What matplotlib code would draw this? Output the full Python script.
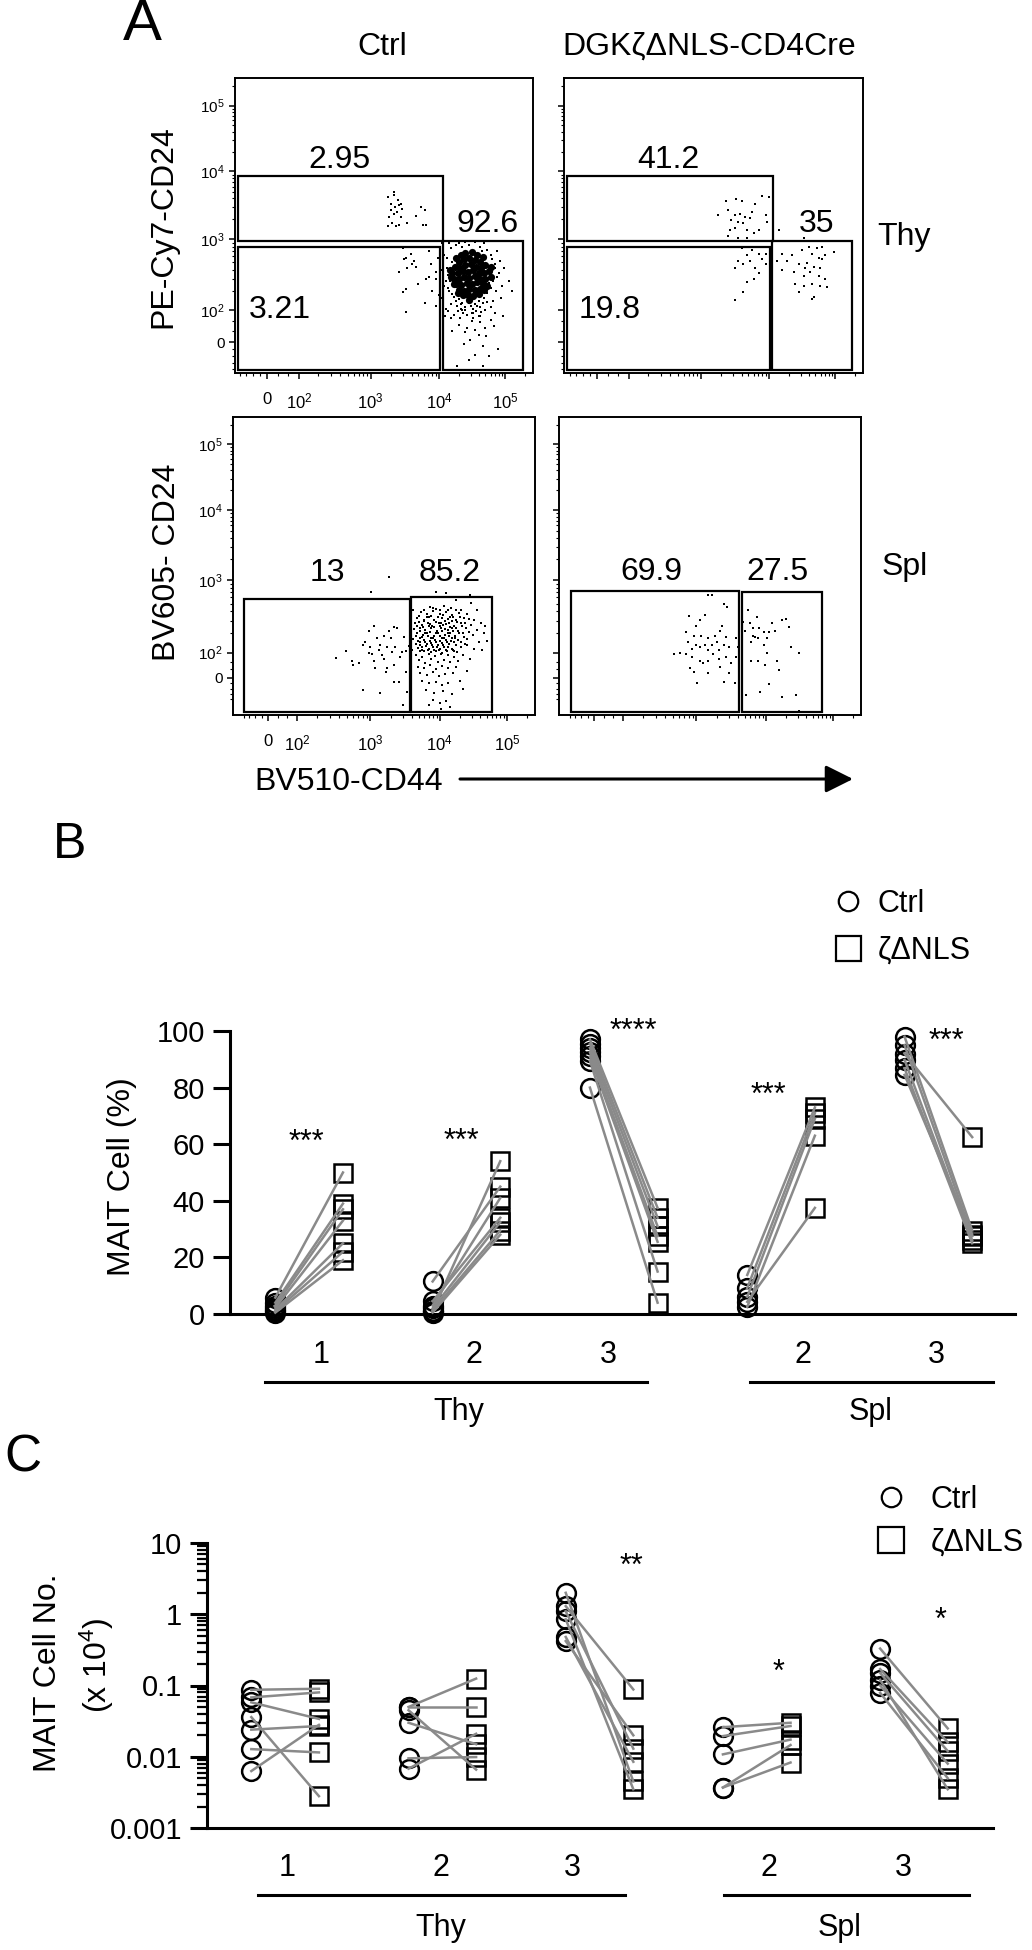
import numpy as np
import matplotlib
matplotlib.use('Agg')
import matplotlib.pyplot as plt
from matplotlib.patches import Rectangle, FancyArrowPatch
from matplotlib.lines import Line2D
from matplotlib.ticker import NullFormatter, LogLocator
from matplotlib.transforms import blended_transform_factory

plt.rcParams['font.family'] = ['Liberation Sans', 'DejaVu Sans']
plt.rcParams['mathtext.fontset'] = 'custom'
plt.rcParams['mathtext.rm'] = 'Liberation Sans'
plt.rcParams['mathtext.it'] = 'Liberation Sans:italic'
plt.rcParams['mathtext.bf'] = 'Liberation Sans:bold'

W, H = 1032, 1950

# ---------------- panel A: flow events ----------------
# rows: log10(CD44) log10(CD24); *_low rows: log10(CD44) raw CD24 (near zero)
def pts(s):
    return np.array(s.split(), float).reshape(-1, 2)

ctrl_thy = pts("""
3.25 3.62 3.30 3.52 3.34 3.66 3.36 3.48 3.41 3.50 3.44 3.52 3.46 3.45 3.30 3.43
3.34 3.38 3.39 3.40 3.44 3.33 3.27 3.33 3.32 3.24 3.37 3.19 3.42 3.21 3.25 3.19
3.54 3.24 3.66 3.35 3.74 3.48 3.79 3.43 3.81 3.21 3.76 3.21 3.34 3.69 3.40 3.58
3.47 2.88 3.52 2.76 3.59 2.81 3.64 2.71 3.66 2.64 3.54 2.62 3.61 2.67 3.49 2.74
3.88 2.67 3.95 2.57 3.86 2.50 3.81 2.48 3.96 2.48 3.42 2.57 3.52 2.33 3.47 2.29
3.79 2.12 3.96 2.07 3.52 1.96 4.00 2.24 3.70 2.40 3.90 2.30 3.85 2.85 3.98 2.75
4.08 2.80 4.12 2.62 4.10 2.45 4.15 2.30 4.18 2.88 4.25 2.92 4.35 2.90 4.62 2.90
4.72 2.86 4.80 2.74 4.85 2.62 4.82 2.45 4.90 2.55 4.95 2.38 4.78 2.35 4.72 2.28
4.68 2.20 4.60 2.15 4.55 2.10 4.30 2.18 4.22 2.22 4.18 2.10 4.27 2.08 4.35 2.12
4.40 2.05 4.48 2.08 4.52 2.02 4.62 2.06 4.82 2.15 4.78 2.05 4.05 2.95 4.02 2.70
4.03 2.20 4.88 2.85 4.92 2.72 4.45 2.92 4.68 2.95 4.14 2.53 4.86 2.30 4.40 2.00
4.56 1.98 4.33 2.02 4.10 2.02
4.05 2.60 4.07 2.38 4.12 2.75 4.15 2.95 4.22 2.98 4.30 2.95 4.40 2.97 4.55 2.96
4.65 2.85 4.78 2.80 4.84 2.68 4.88 2.50 4.80 2.52 4.76 2.42 4.74 2.60 4.70 2.75
4.20 2.70 4.16 2.44 4.13 2.35 4.19 2.26 4.25 2.15 4.33 2.10 4.45 2.12 4.58 2.08
4.66 2.12 4.72 2.14 4.50 1.95 4.42 1.92 4.60 1.90 4.36 1.95 4.28 1.98 4.70 2.00
4.85 1.95 4.94 2.20 4.98 2.62 5.05 2.45 5.10 2.30 4.09 1.90 4.18 1.85 4.52 1.85
4.64 1.97
""")
ctrl_thy_core = pts("""
4.30 2.70 4.38 2.74 4.46 2.76 4.54 2.73 4.62 2.70
4.24 2.64 4.32 2.62 4.40 2.66 4.48 2.68 4.56 2.64 4.64 2.62 4.70 2.66
4.20 2.56 4.28 2.55 4.36 2.58 4.44 2.57 4.52 2.59 4.60 2.56 4.68 2.55 4.75 2.58
4.22 2.48 4.30 2.47 4.38 2.50 4.46 2.49 4.54 2.51 4.62 2.48 4.70 2.47
4.26 2.40 4.34 2.39 4.42 2.42 4.50 2.41 4.58 2.43 4.66 2.40
4.30 2.32 4.38 2.31 4.46 2.34 4.54 2.32 4.62 2.33
4.36 2.24 4.44 2.25 4.52 2.23 4.40 2.82 4.50 2.84 4.33 2.79 4.58 2.80 4.46 2.17
4.16 2.60 4.18 2.50 4.22 2.40 4.78 2.50 4.78 2.64 4.72 2.38 4.68 2.32 4.26 2.76
4.66 2.77 4.28 2.28 4.60 2.26
""")
ctrl_thy_low = pts("""
4.225 83 4.32 70 4.42 39 4.40 28 4.52 90 4.62 57 4.69 39 4.715 17 4.67 -10
4.47 6 4.27 -70 4.67 -70 4.89 -20 4.545 33 4.35 100 4.79 64 4.13 95
4.30 50 4.50 60 4.60 20 4.38 -5 4.55 -35 4.45 -50 4.75 -40 4.62 80 4.83 45
4.20 30 4.97 80
""")

ko_thy = pts("""
3.375 3.57 3.525 3.60 3.60 3.57 3.40 3.43 3.50 3.36 3.575 3.38 3.75 3.40 3.65 3.33
3.725 3.31 3.45 3.29 3.55 3.26 3.625 3.24 3.50 3.17 3.675 3.14 3.775 3.10 3.40 3.05
3.55 3.02 3.675 3.02 3.80 3.52 3.90 3.64 4.00 3.62 3.95 3.36 3.975 3.26 3.85 3.14
3.25 3.36 3.425 3.14
3.60 2.88 3.75 2.86 3.675 2.79 3.85 2.81 3.725 2.71 3.90 2.74 3.50 2.62 3.625 2.67
3.80 2.62 3.95 2.67 3.85 2.55 3.675 2.43 3.775 2.48 3.50 2.17 3.625 2.29 3.95 2.81
3.875 2.90 3.55 2.71
4.20 2.81 4.35 2.79 4.50 2.86 4.525 3.02 4.60 2.90 4.725 2.88 4.80 2.90 4.65 2.81
4.75 2.76 4.85 2.79 4.975 2.83 4.125 2.71 4.275 2.71 4.45 2.67 4.575 2.69 4.675 2.64
4.775 2.62 4.20 2.60 4.375 2.57 4.525 2.52 4.625 2.57 4.75 2.52 4.85 2.48 4.40 2.40
4.525 2.38 4.65 2.40 4.775 2.38 4.875 2.36 4.45 2.29 4.65 2.19 4.675 2.21 4.55 2.62
4.80 2.74 4.15 3.14
""")

ctrl_spl = pts("""
2.686 2.02 2.90 2.13 2.93 2.18 2.976 2.34 3.00 2.09 3.12 2.04 3.145 2.13 3.24 2.09
3.27 2.34 3.29 2.23 3.36 2.09 3.39 2.37 3.48 2.25 3.51 2.02 3.56 2.11 3.10 2.23
3.19 2.27 3.05 2.41 3.34 2.39 3.01 2.85 3.27 3.04
3.86 2.66 3.95 2.63 4.06 2.67 4.17 2.64 4.31 2.62
3.73 2.59 3.81 2.56 3.90 2.60 4.01 2.57 4.09 2.59 4.19 2.55 4.29 2.58 4.41 2.56
3.67 2.51 3.77 2.49 3.85 2.52 3.92 2.48 4.03 2.51 4.08 2.47 4.15 2.52 4.25 2.49 4.36 2.51 4.51 2.48
3.65 2.44 3.74 2.42 3.83 2.45 3.89 2.41 3.99 2.44 4.05 2.42 4.14 2.45 4.22 2.41 4.31 2.44 4.46 2.42
3.63 2.36 3.71 2.38 3.79 2.35 3.88 2.37 3.96 2.34 4.02 2.38 4.12 2.35 4.18 2.37 4.28 2.34 4.39 2.37 4.56 2.35
3.67 2.30 3.76 2.28 3.82 2.31 3.92 2.27 3.98 2.30 4.08 2.28 4.16 2.31 4.23 2.27 4.34 2.30 4.49 2.28
3.62 2.22 3.71 2.24 3.77 2.21 3.87 2.23 3.93 2.20 4.03 2.24 4.09 2.21 4.19 2.23 4.27 2.20 4.41 2.22
3.66 2.15 3.72 2.17 3.82 2.14 3.88 2.16 3.98 2.13 4.04 2.16 4.14 2.14 4.21 2.17 4.37 2.15
3.69 2.08 3.75 2.10 3.85 2.07 3.91 2.09 4.01 2.06 4.07 2.09 4.18 2.07 4.31 2.09 4.51 2.07
3.71 2.02 3.78 2.03 3.88 2.01 3.94 2.03 4.04 2.00 4.11 2.02 4.26 2.01
4.55 2.62 4.61 2.45 4.66 2.31 4.70 2.19 3.62 2.61 3.60 2.04 4.46 2.71 4.24 2.74
4.41 2.12 4.59 2.17 4.21 2.03 4.68 2.41 4.63 2.05 3.94 2.85 4.09 2.83 4.45 2.81
3.77 2.62 3.90 2.64 4.00 2.62 4.12 2.61 4.24 2.61
3.70 2.54 3.81 2.52 3.88 2.54 3.97 2.53 4.05 2.55 4.12 2.50 4.20 2.52 4.30 2.53 4.43 2.50
3.70 2.46 3.78 2.47 3.86 2.43 3.94 2.46 4.02 2.45 4.10 2.43 4.18 2.47 4.26 2.46 4.37 2.45
3.67 2.40 3.76 2.39 3.84 2.40 3.92 2.39 4.00 2.40 4.08 2.36 4.15 2.39 4.24 2.38 4.33 2.40
3.71 2.33 3.79 2.31 3.86 2.32 3.95 2.30 4.03 2.33 4.12 2.30 4.20 2.33 4.29 2.30 4.43 2.32
3.66 2.26 3.74 2.25 3.83 2.26 3.90 2.24 4.00 2.26 4.06 2.24 4.14 2.26 4.23 2.24 4.36 2.25
3.69 2.19 3.79 2.18 3.86 2.19 3.95 2.18 4.01 2.19 4.11 2.18 4.17 2.19 4.31 2.18
3.72 2.12 3.80 2.11 3.89 2.12 3.96 2.10 4.05 2.12 4.13 2.10 4.24 2.12
3.74 2.05 3.83 2.04 3.92 2.05 3.99 2.04 4.09 2.05 4.20 2.04
""")
ctrl_spl_low = pts("""
2.565 73 2.78 47 2.855 55 3.02 95 3.05 63 3.07 33 3.17 87 3.19 70 3.22 21 3.31 104
3.34 47 3.41 -15 3.43 80 3.46 104 3.52 21 3.53 -51 2.90 -43 3.145 -58 3.34 -15 3.24 33
2.976 100 3.47 -110 2.76 63
3.66 90 3.75 80 3.84 95 3.93 85 4.02 92 4.12 88 4.22 80 4.35 90
3.70 65 3.79 55 3.88 70 3.97 60 4.06 68 4.16 58 4.28 62 4.45 70
3.68 40 3.77 35 3.86 45 3.95 30 4.04 42 4.13 35 4.25 38
3.72 15 3.81 10 3.90 20 3.99 5 4.08 12 4.20 18 4.40 25
3.75 -10 3.85 -20 3.94 -15 4.03 -25 4.12 -18 4.30 -10
3.80 -45 3.92 -55 4.05 -50 4.18 -60 4.35 -40
3.90 -85 4.00 -100 4.10 -90 3.85 -110 4.02 -135 4.15 -120 4.05 -150
""")

ko_spl = pts("""
3.17 2.81 3.22 2.81 3.395 2.69 3.445 2.65 3.12 2.55 2.91 2.54 3.37 2.41 3.045 2.48
2.995 2.41 2.87 2.32 2.97 2.27 3.07 2.27 3.17 2.23 3.27 2.27 3.345 2.34 3.42 2.25
2.895 2.18 2.995 2.13 3.12 2.13 3.22 2.13 3.295 2.18 3.395 2.13 2.945 2.06 3.045 2.09
3.17 2.04 3.32 2.04 3.47 2.09 3.57 2.23 3.61 2.13 3.595 2.09
3.745 2.62 3.77 2.45 3.87 2.53 3.91 2.37 3.845 2.25 3.97 2.32 4.045 2.32 4.02 2.23
4.095 2.44 4.145 2.34 4.245 2.48 4.295 2.50 4.345 2.39 3.82 2.37 3.67 2.46 3.695 2.34
3.795 2.18 3.895 2.23 4.37 2.09 3.97 2.13 3.82 2.27
""")
ko_spl_low = pts("""
2.72 94 2.795 100 2.87 94 2.945 78 3.045 63 3.095 55 3.17 63 3.245 94 3.32 70 3.42 78
3.495 55 3.57 78 2.92 33 2.97 21 3.17 15 3.345 40 3.47 17 3.395 -15 3.005 -18 3.56 -18
4.02 100 4.495 100 3.795 63 3.895 63 3.995 47 4.17 63 4.195 26 4.045 -23 3.92 -51
3.72 -65 4.245 -72 4.445 -65 4.495 -145
""")

# gates: (CD44 lo, CD24 lo, CD44 hi, CD24 hi) and frequencies
gates_ctrl_thy = [(-89, 940, 1.15e4, 8.7e3), (-89, -85, 1.03e4, 800), (1.15e4, -85, 1.87e5, 940)]
gates_ko_thy = [(-92, 940, 1.15e4, 8.7e3), (-92, -85, 1.03e4, 800), (1.1e4, -85, 1.8e5, 940)]
gates_ctrl_spl = [(-80, -150, 3.67e3, 580), (3.9e3, -150, 6.0e4, 600)]
gates_ko_spl = [(-76, -150, 4.1e3, 720), (4.6e3, -150, 7.0e4, 700)]
freq_ctrl_thy = ['2.95', '3.21', '92.6']
freq_ko_thy = ['41.2', '19.8', '35']
freq_ctrl_spl = ['13', '85.2']
freq_ko_spl = ['69.9', '27.5']

# ---------------- panel B: MAIT cell (%) ----------------
groups = ['1', '2', '3', '2', '3']
group_pos = [1, 2, 3, 4, 5]
pct_ctrl = [[5.8, 4.0, 3.0, 2.2, 1.5, 1.0, 0.5],
            [1.0, 11.5, 3.0, 4.5, 2.0, 1.2, 0.5],
            [97, 95.5, 94, 92.5, 91, 89.5, 80],
            [13.8, 9.2, 6.1, 2.5, 4.3],
            [98, 95, 92, 89.8, 86.8, 84.5]]
pct_ko = [[50, 39, 37, 33, 25, 22, 19],
          [54, 45, 41, 34, 32.5, 29.5, 28],
          [37.5, 34, 31, 27.5, 25.5, 15, 4],
          [73, 71, 69, 63, 37.5],
          [29.5, 27.5, 62.5, 26, 25, 28]]
pct_sig = ['***', '***', '****', '***', '***']

# ---------------- panel C: MAIT cell number (x 10^4) ----------------
num_ctrl = [[0.087, 0.068, 0.058, 0.024, 0.0128, 0.0063, 0.036],
            [0.05, 0.05, 0.045, 0.03, 0.0095, 0.0068],
            [2.0, 1.3, 1.1, 0.85, 0.48, 0.42],
            [0.026, 0.0195, 0.0108, 0.0037, 0.0037],
            [0.33, 0.17, 0.15, 0.12, 0.1, 0.079]]
num_ko = [[0.09, 0.08, 0.034, 0.027, 0.0115, 0.028, 0.0028],
          [0.125, 0.05, 0.0066, 0.015, 0.0099, 0.021],
          [0.0045, 0.088, 0.013, 0.0035, 0.0085, 0.02],
          [0.03, 0.027, 0.0174, 0.0146, 0.0083],
          [0.025, 0.016, 0.012, 0.0035, 0.008, 0.005]]
num_sig = ['', '', '**', '*', '*']

# ======================================================
fig = plt.figure(figsize=(W / 100, H / 100), dpi=100)


def fx(px):
    return px / W


def fy(py):
    return 1 - py / H


def box(l, t, r, b):
    return [fx(l), fy(b), (r - l) / W, (b - t) / H]


def biex(p100, p1e3, p1e4, p1e5):
    # FlowJo-like display: linear near zero, log above; knots = screen offsets of 10^2..10^5
    v = np.array([-1e4, -100, 0, 100, 1e3, 1e4, 1e5, 1e7])
    u = np.arcsinh(v / 100)
    s0 = p100 / u[3]
    s1 = (p1e5 - p1e4) / (u[6] - u[5])
    p = np.array([u[0] * s0, -p100, 0, p100, p1e3, p1e4, p1e5, p1e5 + (u[7] - u[6]) * s1])

    def fwd(x):
        return np.interp(np.arcsinh(np.asarray(x, float) / 100), u, p)

    def inv(y):
        return 100 * np.sinh(np.interp(np.asarray(y, float), p, u))
    return fwd, inv


def flow(rect, xk, yk, xlo, ylo, main, low, gates, freqs, freq_xy, labels, core=None, ms=1.9):
    ax = fig.add_axes(rect)
    ax.set_xscale('function', functions=biex(*xk))
    ax.set_yscale('function', functions=biex(*yk))
    ax.plot(10 ** main[:, 0], 10 ** main[:, 1], 's', ms=ms, mew=0, color='k')
    ax.plot(10 ** low[:, 0], low[:, 1], 's', ms=ms, mew=0, color='k')
    if core is not None:
        ax.plot(10 ** core[:, 0], 10 ** core[:, 1], 'o', ms=5.2, mew=0, color='k')
    for x0, y0, x1, y1 in gates:
        ax.add_patch(Rectangle((x0, y0), x1 - x0, y1 - y0, fill=False, lw=1.6, ec='k'))
    for t, (tx, ty) in zip(freqs, freq_xy):
        ax.text(tx, ty, t, transform=ax.transAxes, ha='center', va='center', fontsize=23)
    ax.set_xlim(xlo, 262144)
    ax.set_ylim(ylo, 262144)
    majors = [0, 1e2, 1e3, 1e4, 1e5]
    minors = [-80, -60, -40, -20, 30, 60] + [k * 10.0 ** e for e in (2, 3, 4) for k in range(2, 10)] + [2e5]
    for axis in (ax.xaxis, ax.yaxis):
        axis.set_ticks(majors)
        axis.set_ticks(minors, minor=True)
        axis.set_minor_formatter(NullFormatter())
    names = ['0', '$10^2$', '$10^3$', '$10^4$', '$10^5$']
    if labels:
        ax.set_xticklabels(names, fontsize=12)
        ax.set_yticklabels(names, fontsize=11)
    else:
        ax.set_xticklabels([])
        ax.set_yticklabels([])
    ax.tick_params(which='major', direction='out', length=4.5, width=1.1, pad=3)
    ax.tick_params(axis='x', which='major', pad=9)
    ax.tick_params(which='minor', direction='out', length=2.5, width=0.8)
    for s in ax.spines.values():
        s.set_linewidth(1.4)
    return ax


top_k = (32, 103, 171, 237)
bot_x = (29, 102, 171, 238)
bot_y = (25, 97, 167, 232)
flow(box(235, 78, 533, 373), top_k, top_k, -100, -96, ctrl_thy, ctrl_thy_low, gates_ctrl_thy,
     freq_ctrl_thy, [(0.352, 0.722), (0.151, 0.214), (0.846, 0.505)], True, core=ctrl_thy_core)
flow(box(564, 78, 863, 373), top_k, top_k, -104, -96, ko_thy, np.zeros((0, 2)), gates_ko_thy,
     freq_ko_thy, [(0.348, 0.722), (0.154, 0.214), (0.843, 0.505)], False)
flow(box(233, 417, 535, 715), bot_x, bot_y, -128, -171, ctrl_spl, ctrl_spl_low, gates_ctrl_spl,
     freq_ctrl_spl, [(0.311, 0.477), (0.719, 0.477)], True)
flow(box(559, 417, 861, 715), bot_x, bot_y, -128, -171, ko_spl, ko_spl_low, gates_ko_spl,
     freq_ko_spl, [(0.305, 0.48), (0.722, 0.48)], False)

fig.text(fx(142), fy(25), 'A', fontsize=42, ha='center', va='center')
fig.text(fx(382), fy(47), 'Ctrl', fontsize=23, ha='center', va='center')
fig.text(fx(709), fy(47), 'DGKζΔNLS-CD4Cre', fontsize=23, ha='center', va='center')
fig.text(fx(877), fy(237), 'Thy', fontsize=23, ha='left', va='center')
fig.text(fx(882), fy(567), 'Spl', fontsize=23, ha='left', va='center')
fig.text(fx(163), fy(227), 'PE-Cy7-CD24', fontsize=23, rotation=90, ha='center', va='center')
fig.text(fx(167), fy(562), 'BV605- CD24', fontsize=23, rotation=90, ha='center', va='center')
fig.text(fx(349), fy(782), 'BV510-CD44', fontsize=23, ha='center', va='center')
fig.add_artist(FancyArrowPatch((fx(460), fy(779)), (fx(853), fy(779)), transform=fig.transFigure,
                               arrowstyle='-|>,head_length=1.2,head_width=0.6', mutation_scale=14,
                               lw=2.2, color='k', shrinkA=0, shrinkB=0))


# ---------------- paired dot plots ----------------
def paired(ax, ctrl, ko, sig, sig_xy, label_x, label_pad, thy_span, spl_span, name_x, line_y, name_y):
    off = 0.215
    for p, c, k in zip(group_pos, ctrl, ko):
        ax.plot([p - off] * len(c), c, 'o', ms=13.5, mfc='none', mec='k', mew=1.8, clip_on=False, zorder=3)
        ax.plot([p + off] * len(k), k, 's', ms=13, mfc='none', mec='k', mew=1.8, clip_on=False, zorder=3)
        for a, b in zip(c, k):
            ax.plot([p - off, p + off], [a, b], color='#8a8a8a', lw=1.8, clip_on=False, zorder=4)
    for s, (sx, sy) in zip(sig, sig_xy):
        ax.text(sx, sy, s, ha='center', va='center', fontsize=22)
    for side in ('top', 'right'):
        ax.spines[side].set_visible(False)
    for side in ('left', 'bottom'):
        ax.spines[side].set_linewidth(2.2)
    ax.set_xticks(label_x)
    ax.set_xticklabels(groups)
    ax.tick_params(axis='x', length=0, labelsize=22, pad=label_pad)
    ax.tick_params(axis='y', which='major', direction='out', length=12, width=2.2, labelsize=21, pad=6)
    tr = blended_transform_factory(ax.transData, ax.transAxes)
    ax.plot(thy_span, [line_y, line_y], color='k', lw=2.2, transform=tr, clip_on=False)
    ax.plot(spl_span, [line_y, line_y], color='k', lw=2.2, transform=tr, clip_on=False)
    ax.text(name_x[0], name_y, 'Thy', transform=tr, ha='center', va='center', fontsize=22)
    ax.text(name_x[1], name_y, 'Spl', transform=tr, ha='center', va='center', fontsize=22)


def legend(ax, left, mid, ms_c, ms_s, pad, spacing):
    h = [Line2D([], [], ls='none', marker='o', ms=ms_c, mfc='none', mec='k', mew=1.6),
         Line2D([], [], ls='none', marker='s', ms=ms_s, mfc='none', mec='k', mew=1.6)]
    ax.legend(h, ['Ctrl', 'ζΔNLS'], loc='center left', bbox_to_anchor=(fx(left), fy(mid)),
              bbox_transform=fig.transFigure, frameon=False, fontsize=22, handlelength=1.0,
              handletextpad=pad, labelspacing=spacing, borderpad=0, borderaxespad=0)


axB = fig.add_axes(box(230, 1031, 1015, 1314))
paired(axB, pct_ctrl, pct_ko, pct_sig,
       [(0.98, 60.4), (1.97, 60.7), (3.06, 99.6), (3.92, 77), (5.05, 96)],
       [1.075, 2.045, 2.90, 4.14, 4.99], 19, (0.72, 3.15), (3.80, 5.35), (1.95, 4.57), -0.24, -0.345)
axB.set_xlim(0.497, 5.487)
axB.set_ylim(0, 100)
axB.set_yticks([0, 20, 40, 60, 80, 100])
legend(axB, 833, 927, 14, 18, 0.45, 0.55)
fig.text(fx(70), fy(845), 'B', fontsize=36, ha='center', va='center')
fig.text(fx(122), fy(1177), 'MAIT Cell (%)', fontsize=23, rotation=90, ha='center', va='center')

axC = fig.add_axes(box(207, 1543, 993, 1828))
axC.set_yscale('log')
paired(axC, num_ctrl, num_ko, num_sig,
       [(0, 1), (0, 1), (3.2, 4.6), (4.14, 0.15), (5.17, 0.81)],
       [1.01, 1.99, 2.83, 4.08, 4.93], 18, (0.83, 3.16), (3.79, 5.35), (1.99, 4.53), -0.235, -0.35)
axC.set_xlim(0.503, 5.503)
axC.set_ylim(0.001, 10)
axC.set_yticks([0.001, 0.01, 0.1, 1, 10])
axC.set_yticklabels(['0.001', '0.01', '0.1', '1', '10'])
axC.yaxis.set_minor_locator(LogLocator(base=10, subs=range(2, 10)))
axC.yaxis.set_minor_formatter(NullFormatter())
axC.tick_params(axis='y', which='minor', direction='out', length=7, width=1.6)
legend(axC, 876, 1521, 14, 19, 0.8, 0.42)
fig.text(fx(23), fy(1458), 'C', fontsize=37, ha='center', va='center')
fig.text(fx(48), fy(1673), 'MAIT Cell No.', fontsize=23, rotation=90, ha='center', va='center')
fig.text(fx(97), fy(1665), '(x 10$^4$)', fontsize=23, rotation=90, ha='center', va='center')

fig.savefig('out.png', dpi=100)
